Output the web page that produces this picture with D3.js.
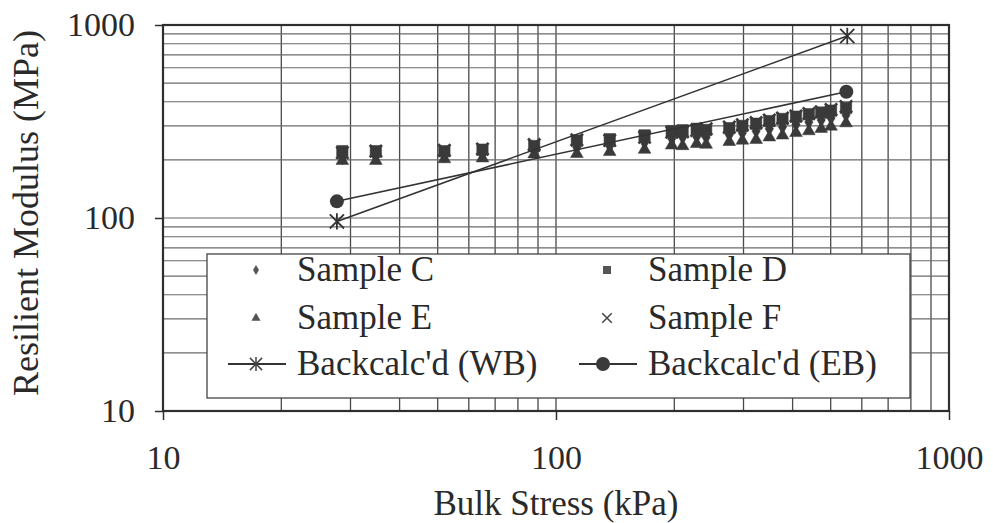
<!DOCTYPE html>
<html>
<head>
<meta charset="utf-8">
<script src="https://cdn.jsdelivr.net/npm/d3@7"></script>
<style>
body { margin: 0; background: #fff; }
text { font-family: "Liberation Serif", "Times New Roman", serif; fill: #2a2a2a; }
</style>
</head>
<body>
<div id="chart"></div>
<script>
// bulk stress levels of the lab tests (kPa)
let stress = [28.6, 34.8, 52, 65, 88, 113, 137, 168, 197, 210, 228, 241, 276, 298, 323, 349, 377, 408, 440, 473, 501, 547]
// resilient modulus (MPa) for each sample at those levels
let sampleC = [205, 208, 210, 214, 224, 232, 236, 246, 258, 262, 264, 262, 270, 276, 282, 290, 296, 305, 314, 322, 330, 342]
let sampleD = [222, 222, 222, 226, 236, 252, 256, 268, 282, 285, 290, 286, 292, 300, 308, 318, 326, 335, 345, 352, 360, 372]
let sampleE = [198, 198, 202, 204, 214, 215, 220, 226, 238, 236, 242, 240, 248, 252, 254, 262, 268, 276, 282, 290, 298, 310]
let sampleF = [218, 222, 224, 228, 240, 254, 252, 262, 278, 280, 284, 290, 296, 304, 312, 322, 330, 338, 348, 355, 365, 378]
// back-calculated moduli (two end points each)
let wbStress = [27.7, 551]
let wbModulus = [96, 877]
let ebStress = [27.7, 548]
let ebModulus = [122, 451]
let xTicks = [10, 100, 1000]
let yTicks = [10, 100, 1000]

const W = 993, H = 523
const pl = 163, pr = 949, pt = 25, pb = 411
const ink = '#3a3a3a'

let svg = d3.select('#chart').append('svg').attr('width', W).attr('height', H)

let x = d3.scaleLog().domain([10, 1000]).range([pl, pr])
let y = d3.scaleLog().domain([10, 1000]).range([pb, pt])

// custom marks
const xMark = {draw(ctx, size) {
  const r = Math.sqrt(size) / 2
  ctx.moveTo(-r, -r); ctx.lineTo(r, r)
  ctx.moveTo(-r, r); ctx.lineTo(r, -r)
}}
const starMark = {draw(ctx, size) {
  const r = Math.sqrt(size) / 2
  ctx.moveTo(0, -r * 1.15); ctx.lineTo(0, r * 1.15)
  ctx.moveTo(-r, -r); ctx.lineTo(r, r)
  ctx.moveTo(-r, r); ctx.lineTo(r, -r)
}}

// grid
let grid = svg.append('g')
grid.selectAll('.vg').data(x.ticks()).enter().append('line')
  .attr('x1', d => x(d)).attr('x2', d => x(d))
  .attr('y1', pt).attr('y2', pb)
  .attr('stroke', '#4a4a4a').attr('stroke-width', 1.3)
grid.selectAll('.hg').data(y.ticks()).enter().append('line')
  .attr('x1', pl).attr('x2', pr)
  .attr('y1', d => y(d)).attr('y2', d => y(d))
  .attr('stroke', '#6a6a6a').attr('stroke-width', 1.1)

svg.append('rect').attr('x', pl).attr('y', pt)
  .attr('width', pr - pl).attr('height', pb - pt)
  .attr('fill', 'none').attr('stroke', '#2e2e2e').attr('stroke-width', 2.2)

// axes
let xAxis = svg.append('g').attr('transform', 'translate(0,' + pb + ')')
  .call(d3.axisBottom(x).tickValues(xTicks).tickSize(9).tickPadding(25).tickFormat(d3.format('d')))
let yAxis = svg.append('g').attr('transform', 'translate(' + pl + ',0)')
  .call(d3.axisLeft(y).tickValues(yTicks).tickSize(8).tickPadding(20).tickFormat(d3.format('d')))
svg.selectAll('.domain').remove()
svg.selectAll('.tick line').attr('stroke', '#2e2e2e').attr('stroke-width', 1.5)
svg.selectAll('.tick text').attr('font-size', 34).attr('fill', '#2a2a2a')
  .style('font-family', '"Liberation Serif", serif')

svg.append('text').attr('x', 556).attr('y', 515).attr('text-anchor', 'middle')
  .attr('font-size', 35).text('Bulk Stress (kPa)')
svg.append('text').attr('transform', 'translate(38,213) rotate(-90)').attr('text-anchor', 'middle')
  .attr('font-size', 36).text('Resilient Modulus (MPa)')

// data points
let plot = svg.append('g')
function pts(vals, type, size, filled) {
  plot.append('g').selectAll('path').data(vals).enter().append('path')
    .attr('transform', (d, i) => 'translate(' + x(stress[i]) + ',' + y(d) + ')')
    .attr('d', d3.symbol().type(type).size(size))
    .attr('fill', filled ? ink : 'none')
    .attr('stroke', ink).attr('stroke-width', filled ? 0.5 : 2.6)
}
pts(sampleC, d3.symbolDiamond, 60, true)
pts(sampleE, d3.symbolTriangle, 70, true)
pts(sampleD, d3.symbolSquare, 130, true)
pts(sampleF, xMark, 150, false)

let line = d3.line().x(d => x(d[0])).y(d => y(d[1]))
let wb = wbStress.map((s, i) => [s, wbModulus[i]])
let eb = ebStress.map((s, i) => [s, ebModulus[i]])
plot.append('path').attr('d', line(wb)).attr('fill', 'none').attr('stroke', '#333').attr('stroke-width', 1.6)
plot.append('path').attr('d', line(eb)).attr('fill', 'none').attr('stroke', '#333').attr('stroke-width', 1.6)
plot.selectAll('.wbm').data(wb).enter().append('path')
  .attr('transform', d => 'translate(' + x(d[0]) + ',' + y(d[1]) + ')')
  .attr('d', d3.symbol().type(starMark).size(200))
  .attr('fill', 'none').attr('stroke', '#333').attr('stroke-width', 1.8)
plot.selectAll('.ebm').data(eb).enter().append('circle')
  .attr('cx', d => x(d[0])).attr('cy', d => y(d[1])).attr('r', 7)
  .attr('fill', ink)

// legend
let lg = svg.append('g')
lg.append('rect').attr('x', 207).attr('y', 254).attr('width', 703).attr('height', 144)
  .attr('fill', '#fff').attr('stroke', '#444').attr('stroke-width', 1.3)
let entries = [
  {label: 'Sample C', type: d3.symbolDiamond, size: 30, fill: true, col: 0, row: 0},
  {label: 'Sample D', type: d3.symbolSquare, size: 64, fill: true, col: 1, row: 0},
  {label: 'Sample E', type: d3.symbolTriangle, size: 36, fill: true, col: 0, row: 1},
  {label: 'Sample F', type: xMark, size: 90, fill: false, col: 1, row: 1},
  {label: "Backcalc'd (WB)", type: starMark, size: 150, fill: false, col: 0, row: 2, line: true},
  {label: "Backcalc'd (EB)", circle: true, col: 1, row: 2, line: true}
]
let colX = [256, 607], txtX = [297, 648], rowY = [270, 318, 364]
entries.forEach(e => {
  let mx = colX[e.col], my = rowY[e.row]
  if (e.line) {
    lg.append('line').attr('x1', mx - 28).attr('x2', mx + 30).attr('y1', my).attr('y2', my)
      .attr('stroke', '#333').attr('stroke-width', 1.8)
  }
  if (e.circle) {
    lg.append('circle').attr('cx', mx - 4).attr('cy', my).attr('r', 7).attr('fill', ink)
  } else {
    lg.append('path').attr('transform', 'translate(' + mx + ',' + my + ')')
      .attr('d', d3.symbol().type(e.type).size(e.size))
      .attr('fill', e.fill ? '#555' : 'none').attr('stroke', e.fill ? 'none' : '#444')
      .attr('stroke-width', 1.5)
  }
  lg.append('text').attr('x', txtX[e.col]).attr('y', my + 11).attr('font-size', 35).text(e.label)
})
</script>
</body>
</html>
